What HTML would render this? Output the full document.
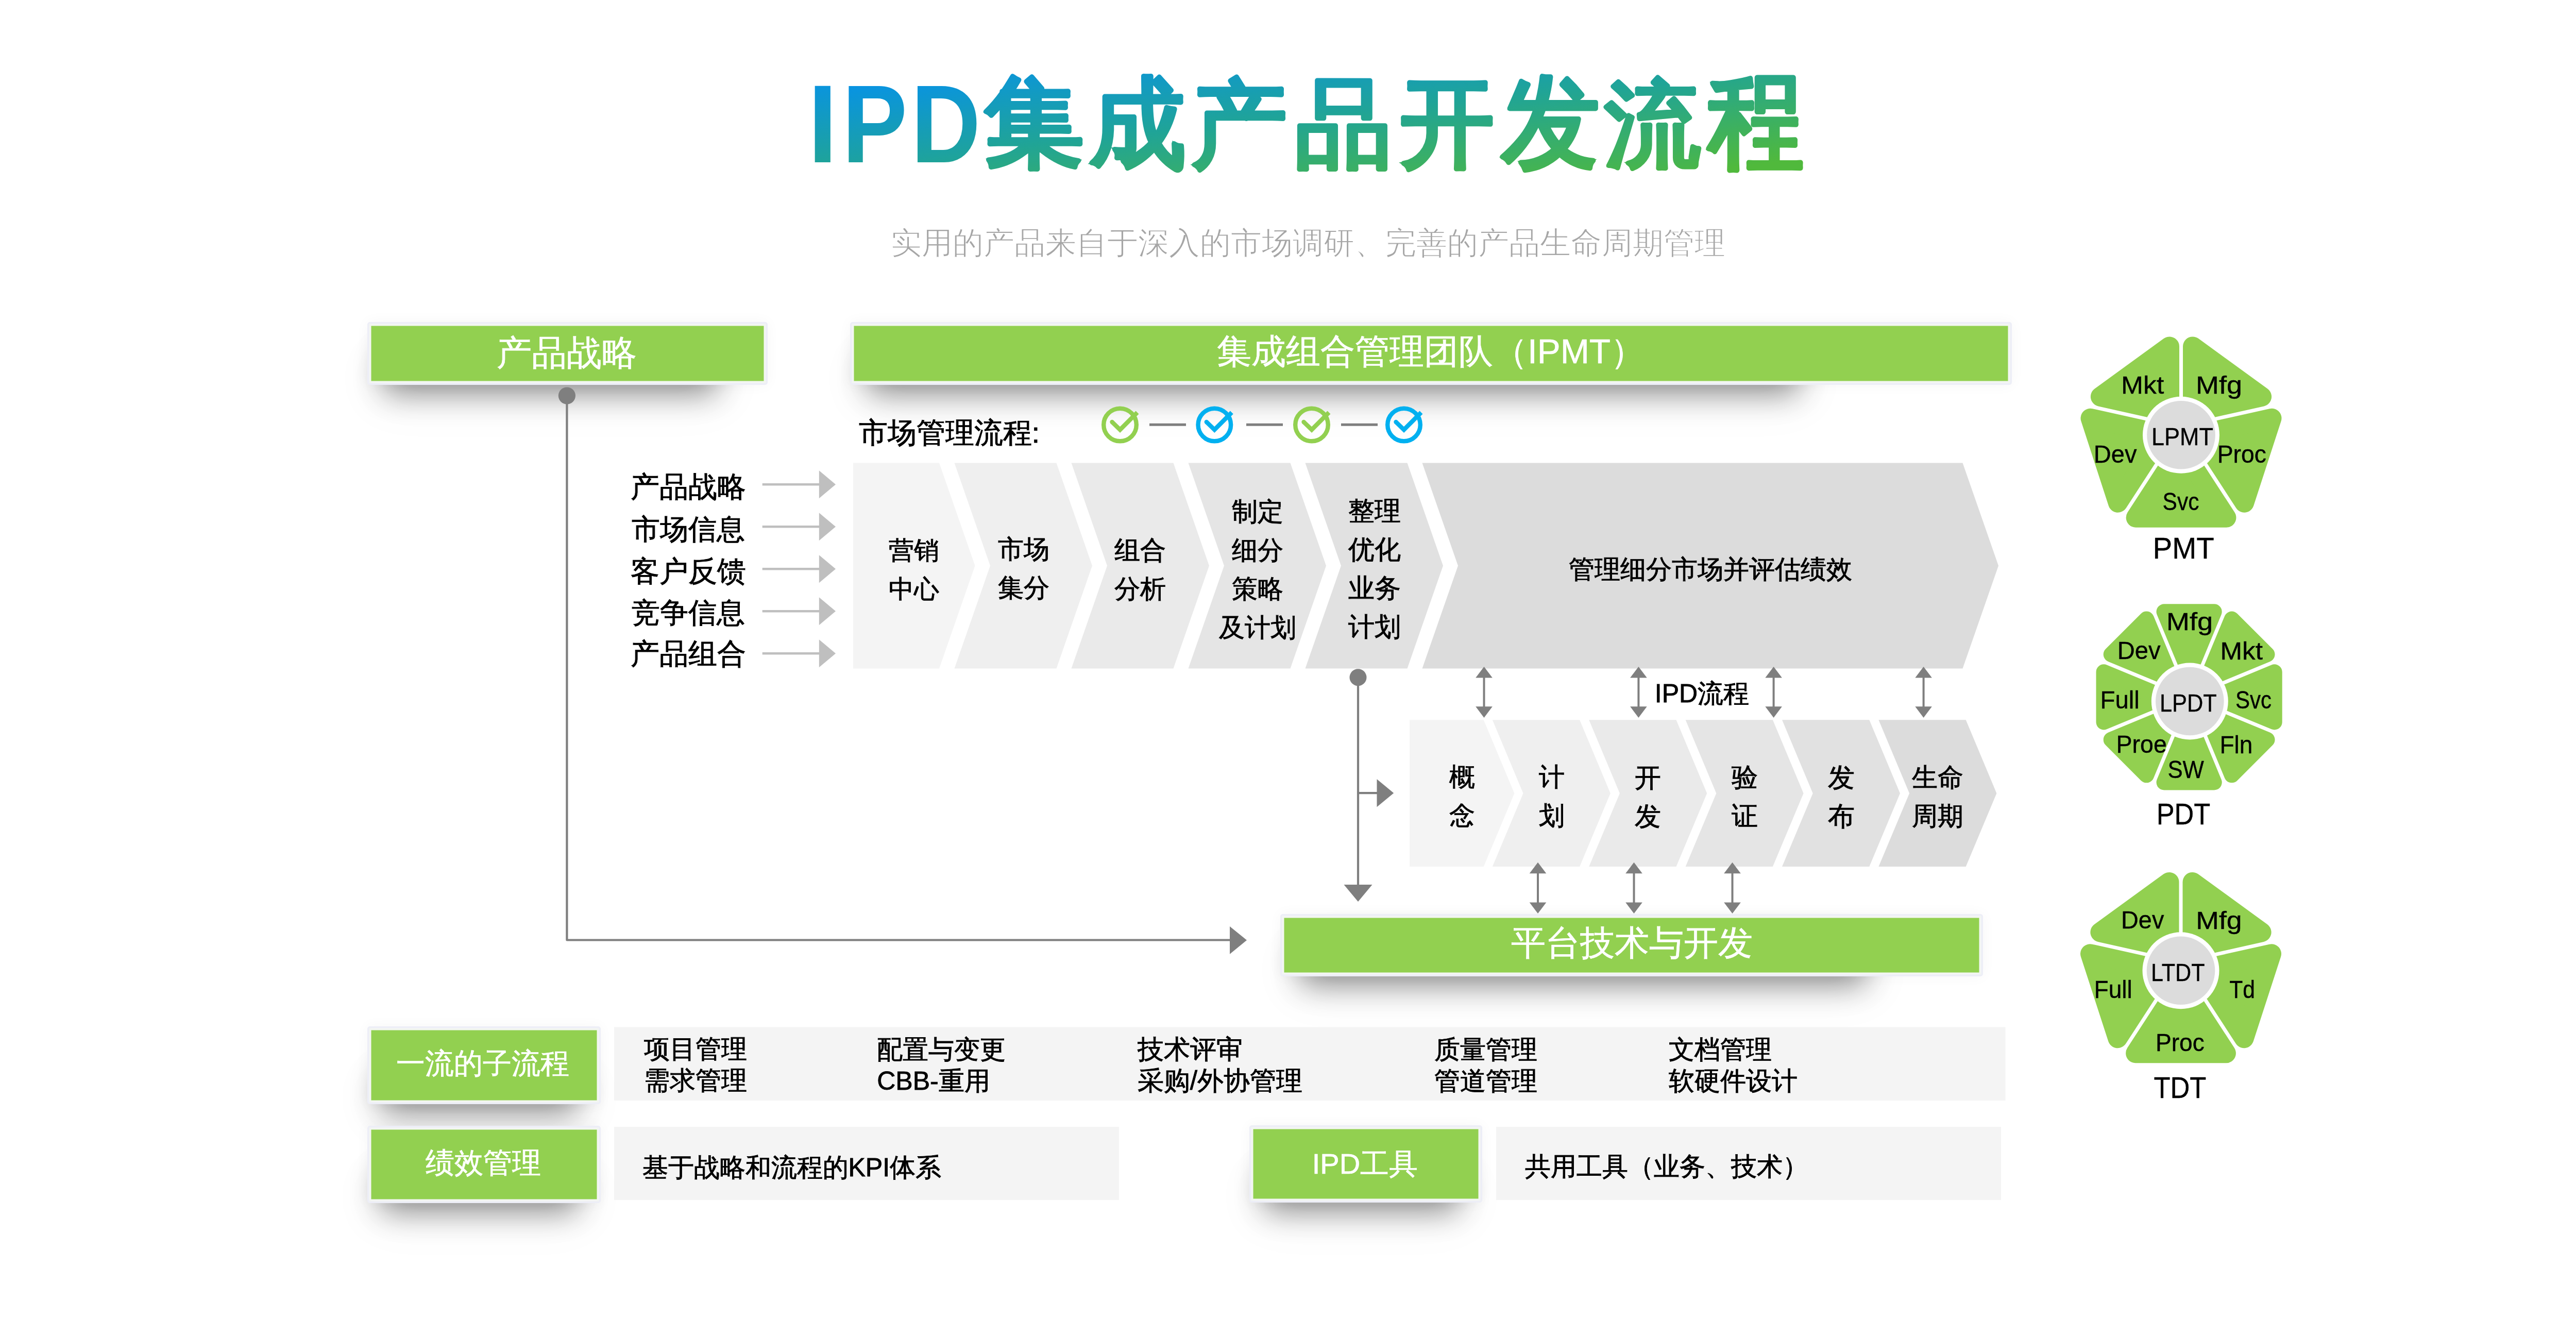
<!DOCTYPE html>
<html><head><meta charset="utf-8"><title>IPD集成产品开发流程</title>
<style>
html,body{margin:0;padding:0;background:#fff;}
body{width:5080px;height:2560px;position:relative;overflow:hidden;font-family:'Liberation Sans', sans-serif;}
.t{position:absolute;white-space:nowrap;font-family:'Liberation Sans', sans-serif;}
svg{position:absolute;left:0;top:0;}
</style></head><body>
<svg width="5080" height="2560" viewBox="0 0 5080 2560">
<defs>
<linearGradient id="tg" gradientUnits="userSpaceOnUse" x1="2521.7" y1="52.8" x2="2558.3" y2="425.2"><stop offset="0" stop-color="#0893e4"/><stop offset="0.47" stop-color="#20a496"/><stop offset="1" stop-color="#50b93c"/></linearGradient>
<linearGradient id="tg_73" gradientUnits="userSpaceOnUse" x1="982.52" y1="-262.20" x2="1020.21" y2="110.20"><stop offset="0" stop-color="#0893e4"/><stop offset="0.47" stop-color="#20a496"/><stop offset="1" stop-color="#50b93c"/></linearGradient>
<linearGradient id="tg_80" gradientUnits="userSpaceOnUse" x1="1006.68" y1="-262.20" x2="1048.22" y2="110.20"><stop offset="0" stop-color="#0893e4"/><stop offset="0.47" stop-color="#20a496"/><stop offset="1" stop-color="#50b93c"/></linearGradient>
<linearGradient id="tg_68" gradientUnits="userSpaceOnUse" x1="868.25" y1="-262.20" x2="910.45" y2="110.20"><stop offset="0" stop-color="#0893e4"/><stop offset="0.47" stop-color="#20a496"/><stop offset="1" stop-color="#50b93c"/></linearGradient>
<linearGradient id="tg_38598" gradientUnits="userSpaceOnUse" x1="635.64" y1="-263.50" x2="673.70" y2="125.17"><stop offset="0" stop-color="#0893e4"/><stop offset="0.47" stop-color="#20a496"/><stop offset="1" stop-color="#50b93c"/></linearGradient>
<linearGradient id="tg_25104" gradientUnits="userSpaceOnUse" x1="437.35" y1="-264.17" x2="476.65" y2="123.17"><stop offset="0" stop-color="#0893e4"/><stop offset="0.47" stop-color="#20a496"/><stop offset="1" stop-color="#50b93c"/></linearGradient>
<linearGradient id="tg_20135" gradientUnits="userSpaceOnUse" x1="228.53" y1="-273.67" x2="268.33" y2="127.59"><stop offset="0" stop-color="#0893e4"/><stop offset="0.47" stop-color="#20a496"/><stop offset="1" stop-color="#50b93c"/></linearGradient>
<linearGradient id="tg_21697" gradientUnits="userSpaceOnUse" x1="8.77" y1="-269.69" x2="47.72" y2="127.23"><stop offset="0" stop-color="#0893e4"/><stop offset="0.47" stop-color="#20a496"/><stop offset="1" stop-color="#50b93c"/></linearGradient>
<linearGradient id="tg_24320" gradientUnits="userSpaceOnUse" x1="-214.60" y1="-269.24" x2="-174.39" y2="128.32"><stop offset="0" stop-color="#0893e4"/><stop offset="0.47" stop-color="#20a496"/><stop offset="1" stop-color="#50b93c"/></linearGradient>
<linearGradient id="tg_21457" gradientUnits="userSpaceOnUse" x1="-413.70" y1="-256.27" x2="-375.11" y2="119.27"><stop offset="0" stop-color="#0893e4"/><stop offset="0.47" stop-color="#20a496"/><stop offset="1" stop-color="#50b93c"/></linearGradient>
<linearGradient id="tg_27969" gradientUnits="userSpaceOnUse" x1="-639.83" y1="-279.00" x2="-600.27" y2="132.99"><stop offset="0" stop-color="#0893e4"/><stop offset="0.47" stop-color="#20a496"/><stop offset="1" stop-color="#50b93c"/></linearGradient>
<linearGradient id="tg_31243" gradientUnits="userSpaceOnUse" x1="-860.81" y1="-245.55" x2="-821.10" y2="114.45"><stop offset="0" stop-color="#0893e4"/><stop offset="0.47" stop-color="#20a496"/><stop offset="1" stop-color="#50b93c"/></linearGradient>
<filter id="sh" x="-30%" y="-200%" width="160%" height="500%"><feGaussianBlur stdDeviation="30"/></filter>
<filter id="sh2" x="-30%" y="-200%" width="160%" height="500%"><feGaussianBlur stdDeviation="50"/></filter>
<filter id="glow" x="-20%" y="-100%" width="140%" height="300%"><feGaussianBlur stdDeviation="14"/></filter>
</defs>
<rect x="745" y="687" width="645" height="75" fill="#000" opacity="0.45" filter="url(#sh)"/>
<rect x="725" y="687" width="685" height="95" fill="#000" opacity="0.045" filter="url(#sh2)"/>
<rect x="713" y="625" width="777" height="122" fill="#000" opacity="0.035" filter="url(#glow)"/>
<rect x="713.0" y="625.0" width="777.0" height="122.0" fill="#edeef7" rx="5"/>
<rect x="716.5" y="628.5" width="770.0" height="115.0" fill="#f3f6f2" />
<rect x="720.5" y="632.5" width="762.0" height="107.0" fill="#92d050" />
<rect x="1685" y="687" width="1805" height="75" fill="#000" opacity="0.45" filter="url(#sh)"/>
<rect x="1665" y="687" width="1845" height="95" fill="#000" opacity="0.045" filter="url(#sh2)"/>
<rect x="1650" y="625" width="2255" height="122" fill="#000" opacity="0.035" filter="url(#glow)"/>
<rect x="1650.0" y="625.0" width="2255.0" height="122.0" fill="#edeef7" rx="5"/>
<rect x="1653.5" y="628.5" width="2248.0" height="115.0" fill="#f3f6f2" />
<rect x="1657.5" y="632.5" width="2240.0" height="107.0" fill="#92d050" />
<rect x="2525" y="1835" width="1095" height="75" fill="#000" opacity="0.45" filter="url(#sh)"/>
<rect x="2505" y="1835" width="1135" height="95" fill="#000" opacity="0.045" filter="url(#sh2)"/>
<rect x="2485" y="1774" width="1364" height="121" fill="#000" opacity="0.035" filter="url(#glow)"/>
<rect x="2485.0" y="1774.0" width="1364.0" height="121.0" fill="#edeef7" rx="5"/>
<rect x="2488.5" y="1777.5" width="1357.0" height="114.0" fill="#f3f6f2" />
<rect x="2492.5" y="1781.5" width="1349.0" height="106.0" fill="#92d050" />
<rect x="740" y="2083" width="380" height="75" fill="#000" opacity="0.45" filter="url(#sh)"/>
<rect x="720" y="2083" width="420" height="95" fill="#000" opacity="0.045" filter="url(#sh2)"/>
<rect x="713" y="1992" width="453" height="151" fill="#000" opacity="0.035" filter="url(#glow)"/>
<rect x="713.0" y="1992.0" width="453.0" height="151.0" fill="#edeef7" rx="5"/>
<rect x="716.5" y="1995.5" width="446.0" height="144.0" fill="#f3f6f2" />
<rect x="720.5" y="1999.5" width="438.0" height="136.0" fill="#92d050" />
<rect x="740" y="2275" width="380" height="75" fill="#000" opacity="0.45" filter="url(#sh)"/>
<rect x="720" y="2275" width="420" height="95" fill="#000" opacity="0.045" filter="url(#sh2)"/>
<rect x="713" y="2185" width="453" height="150" fill="#000" opacity="0.035" filter="url(#glow)"/>
<rect x="713.0" y="2185.0" width="453.0" height="150.0" fill="#edeef7" rx="5"/>
<rect x="716.5" y="2188.5" width="446.0" height="143.0" fill="#f3f6f2" />
<rect x="720.5" y="2192.5" width="438.0" height="135.0" fill="#92d050" />
<rect x="2455" y="2274" width="375" height="75" fill="#000" opacity="0.45" filter="url(#sh)"/>
<rect x="2435" y="2274" width="415" height="95" fill="#000" opacity="0.045" filter="url(#sh2)"/>
<rect x="2425" y="2184" width="452" height="150" fill="#000" opacity="0.035" filter="url(#glow)"/>
<rect x="2425.0" y="2184.0" width="452.0" height="150.0" fill="#edeef7" rx="5"/>
<rect x="2428.5" y="2187.5" width="445.0" height="143.0" fill="#f3f6f2" />
<rect x="2432.5" y="2191.5" width="437.0" height="135.0" fill="#92d050" />
<rect x="1192.0" y="1993.5" width="2700.5" height="142.5" fill="#f4f4f4" />
<rect x="1192.0" y="2187.0" width="980.0" height="142.0" fill="#f4f4f4" />
<rect x="2904.0" y="2187.0" width="980.0" height="142.0" fill="#f4f4f4" />
<polygon points="1656.0,898.5 1823.0,898.5 1892.5,1098.0 1823.0,1297.5 1656.0,1297.5" fill="#f4f4f4" />
<polygon points="1852.5,898.5 2050.5,898.5 2120.0,1098.0 2050.5,1297.5 1852.5,1297.5 1922.0,1098.0" fill="#efefef" />
<polygon points="2079.5,898.5 2277.5,898.5 2347.0,1098.0 2277.5,1297.5 2079.5,1297.5 2149.0,1098.0" fill="#eaeaea" />
<polygon points="2306.5,898.5 2504.5,898.5 2574.0,1098.0 2504.5,1297.5 2306.5,1297.5 2376.0,1098.0" fill="#e5e5e5" />
<polygon points="2533.5,898.5 2731.5,898.5 2801.0,1098.0 2731.5,1297.5 2533.5,1297.5 2603.0,1098.0" fill="#e1e1e1" />
<polygon points="2760.5,898.5 3809.5,898.5 3879.0,1098.0 3809.5,1297.5 2760.5,1297.5 2830.0,1098.0" fill="#dcdcdc" />
<polygon points="2736.0,1397.3 2879.7,1397.3 2939.4,1539.7 2879.7,1682.0 2736.0,1682.0" fill="#f4f4f4" />
<polygon points="2896.8,1397.3 3066.1,1397.3 3125.8,1539.7 3066.1,1682.0 2896.8,1682.0 2956.5,1539.7" fill="#efefef" />
<polygon points="3084.2,1397.3 3253.5,1397.3 3313.2,1539.7 3253.5,1682.0 3084.2,1682.0 3143.9,1539.7" fill="#eaeaea" />
<polygon points="3271.6,1397.3 3440.9,1397.3 3500.6,1539.7 3440.9,1682.0 3271.6,1682.0 3331.3,1539.7" fill="#e5e5e5" />
<polygon points="3459.0,1397.3 3628.3,1397.3 3688.0,1539.7 3628.3,1682.0 3459.0,1682.0 3518.7,1539.7" fill="#e1e1e1" />
<polygon points="3646.4,1397.3 3815.7,1397.3 3875.4,1539.7 3815.7,1682.0 3646.4,1682.0 3706.1,1539.7" fill="#dcdcdc" />
<line x1="1479.7" y1="940.3" x2="1592.0" y2="940.3" stroke="#bfbfbf" stroke-width="4.5"/>
<polygon points="1589.8,913.3 1622.0,940.3 1589.8,967.3" fill="#bfbfbf" />
<line x1="1479.7" y1="1022.3" x2="1592.0" y2="1022.3" stroke="#bfbfbf" stroke-width="4.5"/>
<polygon points="1589.8,995.3 1622.0,1022.3 1589.8,1049.3" fill="#bfbfbf" />
<line x1="1479.7" y1="1104.3" x2="1592.0" y2="1104.3" stroke="#bfbfbf" stroke-width="4.5"/>
<polygon points="1589.8,1077.3 1622.0,1104.3 1589.8,1131.3" fill="#bfbfbf" />
<line x1="1479.7" y1="1186.3" x2="1592.0" y2="1186.3" stroke="#bfbfbf" stroke-width="4.5"/>
<polygon points="1589.8,1159.3 1622.0,1186.3 1589.8,1213.3" fill="#bfbfbf" />
<line x1="1479.7" y1="1268.3" x2="1592.0" y2="1268.3" stroke="#bfbfbf" stroke-width="4.5"/>
<polygon points="1589.8,1241.3 1622.0,1268.3 1589.8,1295.3" fill="#bfbfbf" />
<circle cx="1100.4" cy="768" r="16.6" fill="#7f7f7f"/>
<path d="M1100.4 768 L1100.4 1824.5 L2390 1824.5" fill="none" stroke="#7f7f7f" stroke-width="4.2" stroke-linejoin="round"/>
<polygon points="2387.0,1797.9 2420.0,1824.8 2387.0,1851.8" fill="#7f7f7f" />
<circle cx="2636" cy="1314.7" r="16.5" fill="#7f7f7f"/>
<line x1="2636.0" y1="1314.7" x2="2636.0" y2="1720.0" stroke="#7f7f7f" stroke-width="4.2"/>
<polygon points="2608.5,1717.0 2663.5,1717.0 2636.0,1750.0" fill="#7f7f7f" />
<line x1="2636.0" y1="1539.2" x2="2675.0" y2="1539.2" stroke="#7f7f7f" stroke-width="4.2"/>
<polygon points="2672.5,1512.2 2705.2,1539.2 2672.5,1566.2" fill="#7f7f7f" />
<line x1="2880.5" y1="1314.6" x2="2880.5" y2="1372.3" stroke="#7f7f7f" stroke-width="4"/>
<polygon points="2880.5,1294.0 2896.8,1315.6 2864.2,1315.6" fill="#7f7f7f" />
<polygon points="2880.5,1392.9 2896.8,1371.3 2864.2,1371.3" fill="#7f7f7f" />
<line x1="3180.4" y1="1314.6" x2="3180.4" y2="1372.3" stroke="#7f7f7f" stroke-width="4"/>
<polygon points="3180.4,1294.0 3196.7,1315.6 3164.1,1315.6" fill="#7f7f7f" />
<polygon points="3180.4,1392.9 3196.7,1371.3 3164.1,1371.3" fill="#7f7f7f" />
<line x1="3442.6" y1="1314.6" x2="3442.6" y2="1372.3" stroke="#7f7f7f" stroke-width="4"/>
<polygon points="3442.6,1294.0 3458.9,1315.6 3426.3,1315.6" fill="#7f7f7f" />
<polygon points="3442.6,1392.9 3458.9,1371.3 3426.3,1371.3" fill="#7f7f7f" />
<line x1="3733.6" y1="1314.6" x2="3733.6" y2="1372.3" stroke="#7f7f7f" stroke-width="4"/>
<polygon points="3733.6,1294.0 3749.9,1315.6 3717.3,1315.6" fill="#7f7f7f" />
<polygon points="3733.6,1392.9 3749.9,1371.3 3717.3,1371.3" fill="#7f7f7f" />
<line x1="2985.0" y1="1694.3" x2="2985.0" y2="1752.4" stroke="#7f7f7f" stroke-width="4"/>
<polygon points="2985.0,1673.7 3001.3,1695.3 2968.7,1695.3" fill="#7f7f7f" />
<polygon points="2985.0,1773.0 3001.3,1751.4 2968.7,1751.4" fill="#7f7f7f" />
<line x1="3171.5" y1="1694.3" x2="3171.5" y2="1752.4" stroke="#7f7f7f" stroke-width="4"/>
<polygon points="3171.5,1673.7 3187.8,1695.3 3155.2,1695.3" fill="#7f7f7f" />
<polygon points="3171.5,1773.0 3187.8,1751.4 3155.2,1751.4" fill="#7f7f7f" />
<line x1="3362.5" y1="1694.3" x2="3362.5" y2="1752.4" stroke="#7f7f7f" stroke-width="4"/>
<polygon points="3362.5,1673.7 3378.8,1695.3 3346.2,1695.3" fill="#7f7f7f" />
<polygon points="3362.5,1773.0 3378.8,1751.4 3346.2,1751.4" fill="#7f7f7f" />
<circle cx="2174" cy="824.5" r="31.8" fill="none" stroke="#92d050" stroke-width="8.4"/>
<path d="M2158.5 819.0 L2174 834.0 L2207.5 800.5" fill="none" stroke="#92d050" stroke-width="8.4" stroke-linecap="butt" stroke-linejoin="miter"/>
<circle cx="2158.5" cy="819.0" r="4.2" fill="#92d050"/>
<circle cx="2357.3" cy="824.5" r="31.8" fill="none" stroke="#00b0f0" stroke-width="8.4"/>
<path d="M2341.8 819.0 L2357.3 834.0 L2390.8 800.5" fill="none" stroke="#00b0f0" stroke-width="8.4" stroke-linecap="butt" stroke-linejoin="miter"/>
<circle cx="2341.8" cy="819.0" r="4.2" fill="#00b0f0"/>
<circle cx="2546" cy="824.5" r="31.8" fill="none" stroke="#92d050" stroke-width="8.4"/>
<path d="M2530.5 819.0 L2546 834.0 L2579.5 800.5" fill="none" stroke="#92d050" stroke-width="8.4" stroke-linecap="butt" stroke-linejoin="miter"/>
<circle cx="2530.5" cy="819.0" r="4.2" fill="#92d050"/>
<circle cx="2725" cy="824.5" r="31.8" fill="none" stroke="#00b0f0" stroke-width="8.4"/>
<path d="M2709.5 819.0 L2725 834.0 L2758.5 800.5" fill="none" stroke="#00b0f0" stroke-width="8.4" stroke-linecap="butt" stroke-linejoin="miter"/>
<circle cx="2709.5" cy="819.0" r="4.2" fill="#00b0f0"/>
<line x1="2231.0" y1="824.3" x2="2302.0" y2="824.3" stroke="#7f7f7f" stroke-width="5"/>
<line x1="2419.0" y1="824.3" x2="2490.0" y2="824.3" stroke="#7f7f7f" stroke-width="5"/>
<line x1="2603.0" y1="824.3" x2="2674.0" y2="824.3" stroke="#7f7f7f" stroke-width="5"/>
<path d="M4256.0 799.9 L4256.0 672.4 L4390.1 769.9 Z" fill="#92d050" stroke="#92d050" stroke-width="38" stroke-linejoin="round"/>
<path d="M4270.0 842.9 L4409.5 811.7 L4356.2 975.7 Z" fill="#92d050" stroke="#92d050" stroke-width="38" stroke-linejoin="round"/>
<path d="M4233.5 869.3 L4321.4 1004.7 L4145.6 1004.7 Z" fill="#92d050" stroke="#92d050" stroke-width="38" stroke-linejoin="round"/>
<path d="M4197.0 842.9 L4110.8 975.7 L4057.5 811.7 Z" fill="#92d050" stroke="#92d050" stroke-width="38" stroke-linejoin="round"/>
<path d="M4211.0 799.9 L4076.9 769.9 L4211.0 672.4 Z" fill="#92d050" stroke="#92d050" stroke-width="38" stroke-linejoin="round"/>
<circle cx="4233.5" cy="844.3" r="74.5" fill="#fff"/>
<circle cx="4233.5" cy="844.3" r="66.3" fill="#dcdcdc"/>
<path d="M4255.5 1839.4 L4255.5 1711.9 L4389.6 1809.4 Z" fill="#92d050" stroke="#92d050" stroke-width="38" stroke-linejoin="round"/>
<path d="M4269.5 1882.4 L4409.0 1851.2 L4355.7 2015.2 Z" fill="#92d050" stroke="#92d050" stroke-width="38" stroke-linejoin="round"/>
<path d="M4233.0 1908.8 L4320.9 2044.2 L4145.1 2044.2 Z" fill="#92d050" stroke="#92d050" stroke-width="38" stroke-linejoin="round"/>
<path d="M4196.5 1882.4 L4110.3 2015.2 L4057.0 1851.2 Z" fill="#92d050" stroke="#92d050" stroke-width="38" stroke-linejoin="round"/>
<path d="M4210.5 1839.4 L4076.4 1809.4 L4210.5 1711.9 Z" fill="#92d050" stroke="#92d050" stroke-width="38" stroke-linejoin="round"/>
<circle cx="4233" cy="1883.8" r="74.5" fill="#fff"/>
<circle cx="4233" cy="1883.8" r="66.3" fill="#dcdcdc"/>
<path d="M4249.1 1304.6 L4200.5 1187.3 L4297.7 1187.3 Z" fill="#92d050" stroke="#92d050" stroke-width="30" stroke-linejoin="round"/>
<path d="M4283.3 1318.7 L4331.9 1201.5 L4400.5 1270.1 Z" fill="#92d050" stroke="#92d050" stroke-width="30" stroke-linejoin="round"/>
<path d="M4297.4 1352.9 L4414.7 1304.3 L4414.7 1401.5 Z" fill="#92d050" stroke="#92d050" stroke-width="30" stroke-linejoin="round"/>
<path d="M4283.3 1387.1 L4400.5 1435.7 L4331.9 1504.3 Z" fill="#92d050" stroke="#92d050" stroke-width="30" stroke-linejoin="round"/>
<path d="M4249.1 1401.2 L4297.7 1518.5 L4200.5 1518.5 Z" fill="#92d050" stroke="#92d050" stroke-width="30" stroke-linejoin="round"/>
<path d="M4214.9 1387.1 L4166.3 1504.3 L4097.7 1435.7 Z" fill="#92d050" stroke="#92d050" stroke-width="30" stroke-linejoin="round"/>
<path d="M4200.8 1352.9 L4083.5 1401.5 L4083.5 1304.3 Z" fill="#92d050" stroke="#92d050" stroke-width="30" stroke-linejoin="round"/>
<path d="M4214.9 1318.7 L4097.7 1270.1 L4166.3 1201.5 Z" fill="#92d050" stroke="#92d050" stroke-width="30" stroke-linejoin="round"/>
<circle cx="4250.3" cy="1361" r="74.5" fill="#fff"/>
<circle cx="4250.3" cy="1361" r="66.3" fill="#dcdcdc"/>
<g fill="url(#tg)" font-weight="700" font-family="Liberation Sans, sans-serif">
<text transform="matrix(0.9710 0 0 1.0000 1567.71 315.00)" font-size="215" fill="url(#tg_73)" stroke="url(#tg_73)" stroke-width="0.00" stroke-linejoin="round">I</text>
<text transform="matrix(0.8811 0 0 1.0000 1634.66 315.00)" font-size="215" fill="url(#tg_80)" stroke="url(#tg_80)" stroke-width="0.00" stroke-linejoin="round">P</text>
<text transform="matrix(0.8674 0 0 1.0000 1768.56 315.00)" font-size="215" fill="url(#tg_68)" stroke="url(#tg_68)" stroke-width="0.00" stroke-linejoin="round">D</text>
<text transform="matrix(0.9616 0 0 0.9582 1910.46 305.27)" font-size="202" fill="url(#tg_38598)" stroke="url(#tg_38598)" stroke-width="3.54" stroke-linejoin="round">集</text>
<text transform="matrix(0.9312 0 0 0.9614 2114.46 306.78)" font-size="202" fill="url(#tg_25104)" stroke="url(#tg_25104)" stroke-width="3.65" stroke-linejoin="round">成</text>
<text transform="matrix(0.9197 0 0 0.9281 2311.52 306.79)" font-size="202" fill="url(#tg_20135)" stroke="url(#tg_20135)" stroke-width="3.70" stroke-linejoin="round">产</text>
<text transform="matrix(0.9397 0 0 0.9382 2513.46 305.83)" font-size="202" fill="url(#tg_21697)" stroke="url(#tg_21697)" stroke-width="3.62" stroke-linejoin="round">品</text>
<text transform="matrix(0.9101 0 0 0.9367 2717.01 305.00)" font-size="202" fill="url(#tg_24320)" stroke="url(#tg_24320)" stroke-width="3.74" stroke-linejoin="round">开</text>
<text transform="matrix(0.9485 0 0 0.9916 2914.09 306.93)" font-size="202" fill="url(#tg_21457)" stroke="url(#tg_21457)" stroke-width="3.58" stroke-linejoin="round">发</text>
<text transform="matrix(0.9251 0 0 0.9039 3113.63 304.99)" font-size="202" fill="url(#tg_27969)" stroke="url(#tg_27969)" stroke-width="3.68" stroke-linejoin="round">流</text>
<text transform="matrix(0.9217 0 0 1.0344 3315.09 306.80)" font-size="202" fill="url(#tg_31243)" stroke="url(#tg_31243)" stroke-width="3.69" stroke-linejoin="round">程</text>
</g>
</svg>
<div class="t" style="left:1729.0px;top:412.0px;font-size:60.00px;line-height:120px;color:#a6a6a6;-webkit-text-stroke:1.1px #fff;">实用的产品来自于深入的市场调研、完善的产品生命周期管理</div>
<div class="t" style="left:719.2px;top:622.7px;font-size:68.00px;line-height:122px;color:#fff;width:762px;text-align:center;-webkit-text-stroke:0.7px #fff;">产品战略</div>
<div class="t" style="left:1657.0px;top:620.5px;font-size:67.32px;line-height:122px;color:#fff;width:2241px;text-align:center;-webkit-text-stroke:0.7px #fff;">集成组合管理团队（IPMT）</div>
<div class="t" style="left:2492.8px;top:1769.0px;font-size:67.00px;line-height:121px;color:#fff;width:1349px;text-align:center;-webkit-text-stroke:0.7px #fff;">平台技术与开发</div>
<div class="t" style="left:718.5px;top:1988.2px;font-size:56.00px;line-height:151px;color:#fff;width:437px;text-align:center;-webkit-text-stroke:0.7px #fff;">一流的子流程</div>
<div class="t" style="left:719.2px;top:2182.0px;font-size:56.00px;line-height:150px;color:#fff;width:437px;text-align:center;-webkit-text-stroke:0.7px #fff;">绩效管理</div>
<div class="t" style="left:2431.5px;top:2183.5px;font-size:56.00px;line-height:150px;color:#fff;width:436px;text-align:center;-webkit-text-stroke:0.7px #fff;">IPD工具</div>
<div class="t" style="left:1666.5px;top:800.0px;font-size:56.27px;line-height:80px;color:#000;-webkit-text-stroke:0.9px #000;">市场管理流程:</div>
<div class="t" style="left:1223.8px;top:905.2px;font-size:56.00px;line-height:80px;color:#000;-webkit-text-stroke:0.9px #000;">产品战略</div>
<div class="t" style="left:1225.8px;top:986.7px;font-size:55.27px;line-height:80px;color:#000;-webkit-text-stroke:0.9px #000;">市场信息</div>
<div class="t" style="left:1224.3px;top:1069.1px;font-size:56.00px;line-height:80px;color:#000;-webkit-text-stroke:0.9px #000;">客户反馈</div>
<div class="t" style="left:1225.8px;top:1148.9px;font-size:55.27px;line-height:80px;color:#000;-webkit-text-stroke:0.9px #000;">竞争信息</div>
<div class="t" style="left:1223.8px;top:1228.6px;font-size:56.00px;line-height:80px;color:#000;-webkit-text-stroke:0.9px #000;">产品组合</div>
<div class="t" style="left:1655.5px;top:1029.8px;font-size:49.29px;line-height:75px;color:#000;width:236.5px;text-align:center;-webkit-text-stroke:0.9px #000;">营销<br>中心</div>
<div class="t" style="left:1853.0px;top:1029.0px;font-size:50.11px;line-height:75px;color:#000;width:267.5px;text-align:center;-webkit-text-stroke:0.9px #000;">市场<br>集分</div>
<div class="t" style="left:2079.7px;top:1030.0px;font-size:50.32px;line-height:75px;color:#000;width:267.5px;text-align:center;-webkit-text-stroke:0.9px #000;">组合<br>分析</div>
<div class="t" style="left:2307.0px;top:955.0px;font-size:49.54px;line-height:75px;color:#000;width:267.5px;text-align:center;-webkit-text-stroke:0.9px #000;">制定<br>细分<br>策略<br>及计划</div>
<div class="t" style="left:2534.3px;top:953.8px;font-size:50.86px;line-height:75px;color:#000;width:267.5px;text-align:center;-webkit-text-stroke:0.9px #000;">整理<br>优化<br>业务<br>计划</div>
<div class="t" style="left:2761.0px;top:1067.5px;font-size:50.00px;line-height:75px;color:#000;width:1118.5px;text-align:center;-webkit-text-stroke:0.9px #000;">管理细分市场并评估绩效</div>
<div class="t" style="left:2736.7px;top:1471.4px;font-size:49.82px;line-height:75px;color:#000;width:203.39999999999964px;text-align:center;-webkit-text-stroke:0.9px #000;">概<br>念</div>
<div class="t" style="left:2897.1px;top:1470.9px;font-size:49.93px;line-height:75px;color:#000;width:228.99999999999955px;text-align:center;-webkit-text-stroke:0.9px #000;">计<br>划</div>
<div class="t" style="left:3084.4px;top:1472.1px;font-size:50.99px;line-height:75px;color:#000;width:228.99999999999955px;text-align:center;-webkit-text-stroke:0.9px #000;">开<br>发</div>
<div class="t" style="left:3271.9px;top:1470.7px;font-size:51.17px;line-height:75px;color:#000;width:228.99999999999955px;text-align:center;-webkit-text-stroke:0.9px #000;">验<br>证</div>
<div class="t" style="left:3459.8px;top:1471.7px;font-size:52.36px;line-height:75px;color:#000;width:229.0px;text-align:center;-webkit-text-stroke:0.9px #000;">发<br>布</div>
<div class="t" style="left:3646.1px;top:1471.2px;font-size:50.38px;line-height:75px;color:#000;width:228.99999999999955px;text-align:center;-webkit-text-stroke:0.9px #000;">生命<br>周期</div>
<div class="t" style="left:3211.8px;top:1305.8px;font-size:49.97px;line-height:80px;color:#000;-webkit-text-stroke:0.9px #000;">IPD流程</div>
<div class="t" style="left:1250.0px;top:2006.0px;font-size:50.00px;line-height:61px;color:#000;-webkit-text-stroke:0.9px #000;">项目管理<br>需求管理</div>
<div class="t" style="left:1702.2px;top:2007.0px;font-size:50.01px;line-height:61px;color:#000;-webkit-text-stroke:0.9px #000;">配置与变更<br>CBB-重用</div>
<div class="t" style="left:2207.7px;top:2006.2px;font-size:51.23px;line-height:61px;color:#000;-webkit-text-stroke:0.9px #000;">技术评审<br>采购/外协管理</div>
<div class="t" style="left:2783.8px;top:2006.5px;font-size:49.96px;line-height:61px;color:#000;-webkit-text-stroke:0.9px #000;">质量管理<br>管道管理</div>
<div class="t" style="left:3238.5px;top:2007.0px;font-size:50.00px;line-height:61px;color:#000;-webkit-text-stroke:0.9px #000;">文档管理<br>软硬件设计</div>
<div class="t" style="left:1246.5px;top:2225.7px;font-size:50.00px;line-height:80px;color:#000;-webkit-text-stroke:0.9px #000;">基于战略和流程的KPI体系</div>
<div class="t" style="left:2960.0px;top:2223.8px;font-size:50.00px;line-height:80px;color:#000;-webkit-text-stroke:0.9px #000;">共用工具（业务、技术）</div>
<div class="t" style="left:4120.2px;top:717.9px;font-size:48.00px;line-height:60px;color:#000;transform:scaleX(1.076);transform-origin:50% 50%;-webkit-text-stroke:0.4px #000;">Mkt</div>
<div class="t" style="left:4266.8px;top:717.9px;font-size:48.00px;line-height:60px;color:#000;transform:scaleX(1.123);transform-origin:50% 50%;-webkit-text-stroke:0.4px #000;">Mfg</div>
<div class="t" style="left:4171.7px;top:818.4px;font-size:48.00px;line-height:60px;color:#000;transform:scaleX(0.937);transform-origin:50% 50%;-webkit-text-stroke:0.4px #000;">LPMT</div>
<div class="t" style="left:4062.8px;top:852.3px;font-size:48.00px;line-height:60px;color:#000;transform:scaleX(0.980);transform-origin:50% 50%;-webkit-text-stroke:0.4px #000;">Dev</div>
<div class="t" style="left:4301.9px;top:852.3px;font-size:48.00px;line-height:60px;color:#000;transform:scaleX(0.966);transform-origin:50% 50%;-webkit-text-stroke:0.4px #000;">Proc</div>
<div class="t" style="left:4193.4px;top:944.1px;font-size:48.00px;line-height:60px;color:#000;transform:scaleX(0.886);transform-origin:50% 50%;-webkit-text-stroke:0.4px #000;">Svc</div>
<div class="t" style="left:4177.6px;top:1034.2px;font-size:57.00px;line-height:60px;color:#000;transform:scaleX(0.990);transform-origin:50% 50%;-webkit-text-stroke:0.4px #000;">PMT</div>
<div class="t" style="left:4210.4px;top:1177.1px;font-size:48.00px;line-height:60px;color:#000;transform:scaleX(1.130);transform-origin:50% 50%;-webkit-text-stroke:0.4px #000;">Mfg</div>
<div class="t" style="left:4108.7px;top:1233.0px;font-size:48.00px;line-height:60px;color:#000;transform:scaleX(0.980);transform-origin:50% 50%;-webkit-text-stroke:0.4px #000;">Dev</div>
<div class="t" style="left:4311.5px;top:1234.2px;font-size:48.00px;line-height:60px;color:#000;transform:scaleX(1.066);transform-origin:50% 50%;-webkit-text-stroke:0.4px #000;">Mkt</div>
<div class="t" style="left:4076.2px;top:1329.2px;font-size:48.00px;line-height:60px;color:#000;transform:scaleX(0.986);transform-origin:50% 50%;-webkit-text-stroke:0.4px #000;">Full</div>
<div class="t" style="left:4185.8px;top:1334.6px;font-size:48.00px;line-height:60px;color:#000;transform:scaleX(0.903);transform-origin:50% 50%;-webkit-text-stroke:0.4px #000;">LPDT</div>
<div class="t" style="left:4334.2px;top:1328.7px;font-size:48.00px;line-height:60px;color:#000;transform:scaleX(0.877);transform-origin:50% 50%;-webkit-text-stroke:0.4px #000;">Svc</div>
<div class="t" style="left:4106.0px;top:1415.1px;font-size:48.00px;line-height:60px;color:#000;transform:scaleX(0.969);transform-origin:50% 50%;-webkit-text-stroke:0.4px #000;">Proe</div>
<div class="t" style="left:4306.5px;top:1416.1px;font-size:48.00px;line-height:60px;color:#000;transform:scaleX(0.957);transform-origin:50% 50%;-webkit-text-stroke:0.4px #000;">Fln</div>
<div class="t" style="left:4203.9px;top:1464.1px;font-size:48.00px;line-height:60px;color:#000;transform:scaleX(0.912);transform-origin:50% 50%;-webkit-text-stroke:0.4px #000;">SW</div>
<div class="t" style="left:4181.2px;top:1550.3px;font-size:57.00px;line-height:60px;color:#000;transform:scaleX(0.918);transform-origin:50% 50%;-webkit-text-stroke:0.4px #000;">PDT</div>
<div class="t" style="left:4115.8px;top:1755.9px;font-size:48.00px;line-height:60px;color:#000;transform:scaleX(0.975);transform-origin:50% 50%;-webkit-text-stroke:0.4px #000;">Dev</div>
<div class="t" style="left:4267.2px;top:1756.7px;font-size:48.00px;line-height:60px;color:#000;transform:scaleX(1.116);transform-origin:50% 50%;-webkit-text-stroke:0.4px #000;">Mfg</div>
<div class="t" style="left:4168.6px;top:1858.3px;font-size:48.00px;line-height:60px;color:#000;transform:scaleX(0.898);transform-origin:50% 50%;-webkit-text-stroke:0.4px #000;">LTDT</div>
<div class="t" style="left:4062.7px;top:1890.7px;font-size:48.00px;line-height:60px;color:#000;transform:scaleX(0.960);transform-origin:50% 50%;-webkit-text-stroke:0.4px #000;">Full</div>
<div class="t" style="left:4323.8px;top:1890.7px;font-size:48.00px;line-height:60px;color:#000;transform:scaleX(0.888);transform-origin:50% 50%;-webkit-text-stroke:0.4px #000;">Td</div>
<div class="t" style="left:4181.8px;top:1994.1px;font-size:48.00px;line-height:60px;color:#000;transform:scaleX(0.960);transform-origin:50% 50%;-webkit-text-stroke:0.4px #000;">Proc</div>
<div class="t" style="left:4175.6px;top:2081.3px;font-size:57.00px;line-height:60px;color:#000;transform:scaleX(0.921);transform-origin:50% 50%;-webkit-text-stroke:0.4px #000;">TDT</div>
</body></html>
